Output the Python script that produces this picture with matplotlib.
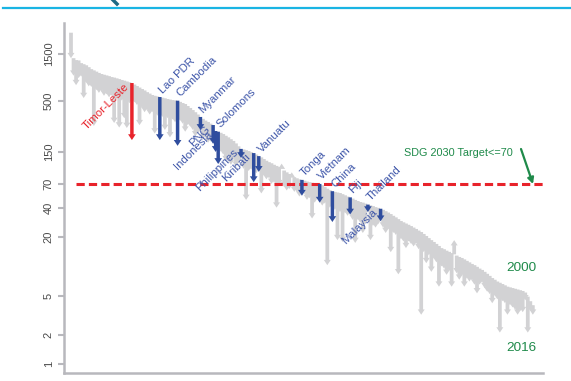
import matplotlib
matplotlib.use("Agg")
import matplotlib.pyplot as plt
from matplotlib.lines import Line2D
from matplotlib.ticker import NullLocator, FixedLocator, FixedFormatter

plt.rcParams['font.family'] = ['Liberation Sans', 'DejaVu Sans']

# Maternal mortality ratio per 100,000 live births, countries sorted by 2000 value
mmr_2000 = [
    2480, 1360, 1300, 1290, 1210, 1180, 1150, 1100, 1050, 1020,
    990, 960, 936, 920, 905, 890, 871, 860, 845, 830,
    813, 800, 785, 770, 757, 730, 705, 680, 657, 635,
    610, 590, 570, 560, 552, 544, 535, 528, 519, 512,
    506, 502, 499, 485, 472, 461, 440, 420, 400, 380,
    360, 340, 325, 312, 302, 290, 281, 244, 240, 234,
    227, 218, 210, 201, 193, 182, 170, 160, 158, 155,
    152, 148, 145, 140, 135, 131, 126, 121, 117, 114,
    110, 107, 104, 100, 96, 92, 88.5, 85, 82, 80,
    78, 77, 75.5, 74, 73, 72, 71.5, 71, 70, 68,
    65, 62.5, 60.5, 59, 58, 57.2, 56.5, 55, 53.5, 52,
    51, 49.5, 48, 46.8, 45.7, 45, 44, 43, 42.2, 41.5,
    40.5, 39.8, 39, 38, 36.8, 35.6, 34.4, 33, 31.8, 30.5,
    29.2, 28.3, 27.5, 26.7, 25.9, 25, 24.2, 23.3, 22.5, 21.5,
    20.5, 19.5, 18.6, 17.8, 17, 16.2, 15.4, 15, 14.5, 14.1,
    13.7, 13.3, 12.9, 12.5, 12.2, 11.8, 11.4, 11, 10.6, 10.3,
    9.9, 9.5, 9.2, 8.8, 8.4, 8, 7.6, 7.3, 7.0, 6.8,
    6.6, 6.4, 6.2, 6.1, 6.0, 5.9, 5.8, 5.7, 5.6, 5.4,
    4.9, 4.4, 4.0,
]
mmr_2016 = [
    1360, 900, 720, 850, 880, 531, 760, 700, 690, 275,
    640, 600, 620, 560, 580, 540, 560, 295, 520, 265,
    500, 330, 262, 470, 197, 480, 450, 280, 420, 380,
    400, 360, 380, 230, 350, 197, 340, 250, 330, 210,
    320, 300, 172, 310, 290, 240, 280, 270, 250, 215,
    230, 250, 200, 215, 185, 190, 180, 149, 112, 150,
    140, 120, 135, 110, 125, 105, 115, 129, 100, 48,
    95, 98, 73, 90, 93, 56, 85, 78, 80, 70,
    72, 40, 68, 113, 65, 60, 62, 92, 58, 58,
    52, 53, 55, 48, 50, 31, 45, 50, 45, 42,
    44, 10.3, 40, 28.5, 38, 18.6, 36, 17.8, 35, 33,
    34, 30, 17.4, 30, 28, 22, 27, 36, 18.6, 26,
    25, 27, 29, 25, 22, 24, 14, 22, 21, 8.3,
    19, 18, 15.4, 18, 17, 16, 17, 15, 3.2, 14,
    10.8, 13, 8.8, 12, 11, 6.2, 10, 9.5, 8.2, 9,
    6.2, 18.6, 8.5, 7.3, 8, 6.2, 7.5, 7, 7.2, 6.5,
    5.3, 6.5, 6.8, 6, 5.5, 5.2, 4.2, 5, 4.6, 2.1,
    4.4, 4.2, 3.2, 4, 3.8, 3.6, 3.2, 3.5, 3.4, 4.5,
    2.1, 3.5, 3.2,
]

# Highlighted countries: name, index in the sorted list, label side
hl_names = ["Timor-Leste", "Lao PDR", "Cambodia", "Myanmar", "PNG", "Indonesia",
            "Solomons", "Philippines", "Kiribati", "Vanuatu", "Tonga", "Vietnam",
            "China", "Fiji", "Thailand", "Malaysia"]
hl_index = [24, 35, 42, 51, 56, 57, 58, 67, 72, 74, 91, 98, 103, 110, 117, 122]
hl_side = ["below", "above", "above", "above", "below", "below",
           "above", "below", "below", "above", "above", "above",
           "above", "above", "above", "below"]

target = 70
yticks = [1, 2, 5, 20, 40, 70, 150, 500, 1500]
ytick_labels = ["1", "2", "5", "20", "40", "70", "150", "500", "1500"]

GRAY = "#d2d2d4"
BLUE = "#2f4d9e"
LBLUE = "#3e56a9"
RED = "#e8232b"
GREEN = "#1f8a4a"

W, H = 571, 381
fig = plt.figure(figsize=(W / 100, H / 100), dpi=100)
ax = fig.add_axes([64 / W, 8 / H, 479 / W, 350 / H])
ax.set_yscale('log')
ax.set_ylim(0.809, 3119)
ax.set_xlim(-2.76, 186.0)

def arrow(i, a, b, color, z, tw, hw, hl):
    ax.annotate('', xy=(i, b), xytext=(i, a),
                arrowprops=dict(arrowstyle='simple,head_length=%g,head_width=%g,tail_width=%g'
                                % (hl, hw, tw),
                                fc=color, ec='none', lw=0, shrinkA=0, shrinkB=0,
                                mutation_scale=10),
                zorder=z, annotation_clip=False)

hl_set = set(hl_index)
for i, (a, b) in enumerate(zip(mmr_2000, mmr_2016)):
    if i in hl_set:
        continue
    arrow(i, a, b, GRAY, 2, tw=0.27, hw=0.5, hl=0.38)

ax.axhline(target, xmin=(76 - 64) / 479, xmax=1.0, color=RED, lw=2.2,
           dashes=(2.7, 1.35), zorder=3)

for name, i, side in zip(hl_names, hl_index, hl_side):
    col = RED if name == "Timor-Leste" else BLUE
    lcol = RED if name == "Timor-Leste" else LBLUE
    arrow(i, mmr_2000[i], mmr_2016[i], col, 4, tw=0.25, hw=0.55, hl=0.42)
    if side == "above":
        ax.annotate(name, xy=(i, mmr_2000[i]), xytext=(3, 1.5),
                    textcoords='offset points', rotation=45,
                    rotation_mode='anchor', ha='left', va='bottom',
                    color=lcol, fontsize=8.2, zorder=5)
    else:
        ax.annotate(name, xy=(i, mmr_2000[i]), xytext=(-3.5, -1.5),
                    textcoords='offset points', rotation=45,
                    rotation_mode='anchor', ha='right', va='center',
                    color=lcol, fontsize=8.2, zorder=5)

# SDG target annotation
ax.text((404 - 64) / 479, (373 - 153) / 350, "SDG 2030 Target<=70",
        transform=ax.transAxes, color=GREEN, fontsize=7.8, ha='left', va='center')
ax.annotate('', xy=((533 - 64) / 479, (373 - 184) / 350),
            xytext=((521 - 64) / 479, (373 - 149) / 350),
            xycoords='axes fraction', textcoords='axes fraction',
            arrowprops=dict(arrowstyle='-|>,head_length=0.35,head_width=0.18',
                            color=GREEN, lw=1.6, shrinkA=0, shrinkB=0,
                            mutation_scale=10), zorder=6)

ax.text((506 - 64) / 479, (373 - 268) / 350, "2000", transform=ax.transAxes,
        color=GREEN, fontsize=9.7, ha='left', va='center')
ax.text((506 - 64) / 479, (373 - 348) / 350, "2016", transform=ax.transAxes,
        color=GREEN, fontsize=9.7, ha='left', va='center')

# axes styling
for s in ['top', 'right']:
    ax.spines[s].set_visible(False)
for s in ['left', 'bottom']:
    ax.spines[s].set_color('#b8b8bd')
    ax.spines[s].set_linewidth(1.8)
ax.yaxis.set_major_locator(FixedLocator(yticks))
ax.yaxis.set_major_formatter(FixedFormatter(ytick_labels))
ax.yaxis.set_minor_locator(NullLocator())
ax.set_xticks([])
ax.tick_params(axis='y', length=4.3, width=1.5, color='#b8b8bd',
               labelsize=8, labelcolor='#4a4a4a', pad=3)
for lab in ax.get_yticklabels():
    lab.set_rotation(90)
    lab.set_va('center')

# header rule
fig.add_artist(Line2D([3 / W, 1.0], [1 - 8 / H, 1 - 8 / H], color='#19b4e3', lw=1.6))
fig.add_artist(Line2D([113 / W, 117 / W], [1 - 0 / H, 1 - 4 / H], color='#1d6a84', lw=2.5))

fig.savefig("out.png", dpi=100)
